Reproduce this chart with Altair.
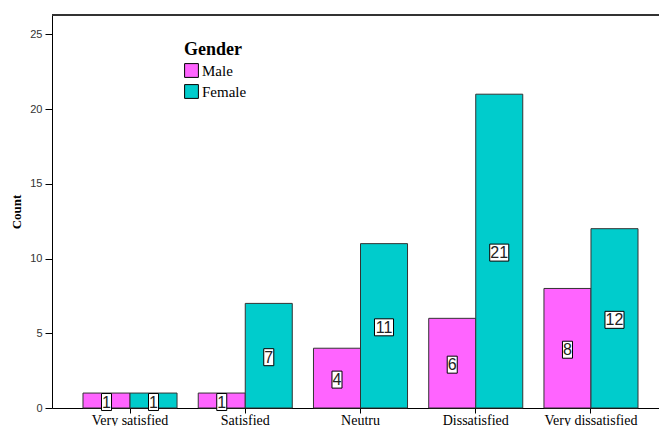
import altair as alt
import pandas as pd

categories = ["Very satisfied", "Satisfied", "Neutru", "Dissatisfied", "Very dissatisfied"]
genders = ["Male", "Female"]
male_counts = [1, 1, 4, 6, 8]
female_counts = [1, 7, 11, 21, 12]

rows = []
for c, m, f in zip(categories, male_counts, female_counts):
    rows.append({"Satisfaction": c, "Gender": "Male", "Count": m})
    rows.append({"Satisfaction": c, "Gender": "Female", "Count": f})
df = pd.DataFrame(rows)
df["mid"] = df["Count"] / 2
df["digits"] = df["Count"].astype(str).str.len().astype(str)

x_enc = alt.X(
    "Satisfaction:N",
    sort=categories,
    scale=alt.Scale(paddingInner=0.184, paddingOuter=0.269, range=[0, 617]),
    axis=alt.Axis(
        title=None,
        labelAngle=0,
        labelFont="Liberation Serif",
        labelFontSize=14,
        labelColor="black",
        tickSize=5,
        tickColor="black",
        domainColor="black",
        labelPadding=0,
    ),
)
xoff = alt.XOffset("Gender:N", sort=genders, scale=alt.Scale(domain=genders, paddingInner=0, paddingOuter=0))

bars = alt.Chart(df).mark_bar(stroke="#333333", strokeWidth=1).encode(
    x=x_enc,
    xOffset=xoff,
    y=alt.Y(
        "Count:Q",
        scale=alt.Scale(domain=[0, 26.3], nice=False),
        axis=alt.Axis(
            title="Count",
            titleFont="Liberation Serif",
            titleFontSize=13,
            titleFontWeight="bold",
            titleColor="black",
            titlePadding=6,
            values=[0, 5, 10, 15, 20, 25],
            grid=False,
            tickSize=7,
            tickColor="black",
            domainColor="black",
            labelFont="Liberation Sans",
            labelFontSize=11,
            labelColor="#333333",
            labelPadding=3,
        ),
    ),
    color=alt.Color(
        "Gender:N",
        sort=genders,
        scale=alt.Scale(domain=genders, range=["#FF64FF", "#00CCCC"]),
        legend=alt.Legend(
            title="Gender",
            orient="none",
            legendX=132,
            legendY=26,
            titleFont="Liberation Serif",
            titleFontSize=18,
            titleFontWeight="bold",
            titleColor="black",
            labelFont="Liberation Serif",
            labelFontSize=15,
            labelColor="black",
            symbolType="square",
            symbolSize=190,
            symbolStrokeColor="black",
            symbolStrokeWidth=1,
            symbolOpacity=1,
            rowPadding=2,
            labelOffset=3,
            titlePadding=4,
        ),
    ),
)

box_small = "M-0.59,-1H0.59V1H-0.59Z"
box_big = "M-1.12,-1H1.12V1H-1.12Z"

boxes = alt.Chart(df).mark_point(filled=True, fill="white", stroke="black", strokeWidth=1, opacity=1, size=289).encode(
    x=alt.X("Satisfaction:N", sort=categories),
    xOffset=xoff,
    y=alt.Y("mid:Q"),
    yOffset=alt.value(1.5),
    shape=alt.Shape("digits:N", scale=alt.Scale(domain=["1", "2"], range=[box_small, box_big]), legend=None),
)

labels = alt.Chart(df).mark_text(font="Liberation Sans", fontSize=16, color="#222222", baseline="middle", dy=2).encode(
    x=alt.X("Satisfaction:N", sort=categories),
    xOffset=xoff,
    y=alt.Y("mid:Q"),
    text=alt.Text("Count:Q"),
)

top_line = alt.Chart(df).mark_rule(color="#333333", strokeWidth=1).encode(y=alt.value(0))

chart = (
    alt.layer(bars, boxes, labels, top_line)
    .properties(
        width=607,
        height=393,
        autosize=alt.AutoSizeParams(type="none"),
        padding={"left": 44, "top": 7, "right": 0, "bottom": 18},
    )
    .configure_view(stroke=None)
    .configure(background="white")
)

chart.save("out.html", embed_options={"renderer": "svg", "actions": False})
